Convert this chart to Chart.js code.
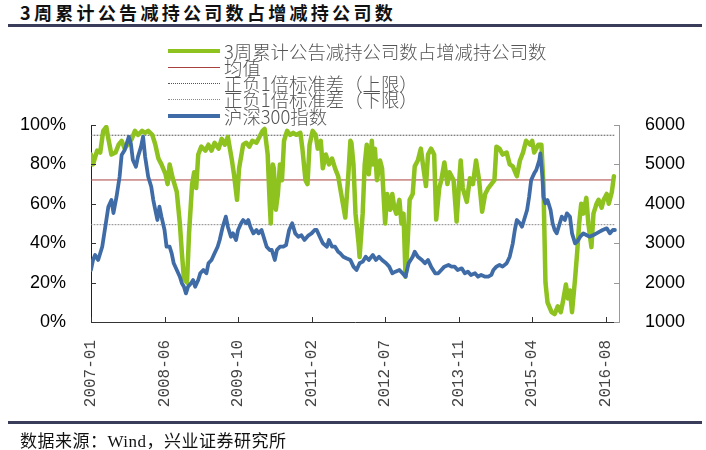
<!DOCTYPE html>
<html><head><meta charset="utf-8">
<script src="https://cdn.jsdelivr.net/npm/chart.js@4/dist/chart.umd.min.js"></script>
<style>
html,body{margin:0;padding:0;background:#fff;}
#wrap{position:relative;width:706px;height:450px;overflow:hidden;background:#fff;}
#c{position:absolute;left:0;top:0;}
#title{position:absolute;left:20px;top:1px;font:bold 18px "Noto Sans CJK SC";letter-spacing:3.3px;color:#111;line-height:22px;white-space:nowrap;}
.rule{position:absolute;left:8px;width:694px;height:3px;background:#3a3d5a;}
#src{position:absolute;left:20px;top:429px;font:17px "Noto Sans CJK SC";letter-spacing:0.5px;color:#111;line-height:22px;white-space:nowrap;}
#src .w{font-family:"Liberation Serif";}
#legend{position:absolute;left:168px;top:0;}
.li{position:absolute;left:0;height:17px;white-space:nowrap;}
.sw{position:absolute;left:0;width:52px;}
.lt{position:absolute;left:56px;top:0;font:300 18.4px "Noto Sans CJK SC";color:#555;line-height:17px;}
</style></head>
<body>
<div id="wrap">
  <div id="title">3周累计公告减持公司数占增减持公司数</div>
  <div class="rule" style="top:24px"></div>
  <canvas id="c" width="706" height="450"></canvas>
  <div id="legend"></div>
  <div class="rule" style="top:421px"></div>
  <div id="src">数据来源：<span class="w">Wind</span>，兴业证券研究所</div>
</div>
<script>
// ---- tick labels (weeks since first observation) ----
const tickWeeks = [0, 72, 144, 216, 288, 360, 432, 504];
const tickLabels = ['2007-01', '2008-06', '2009-10', '2011-02', '2012-07', '2013-11', '2015-04', '2016-08'];
const xMax = 517;

// ---- series: 3-week cumulative share of reducing companies (%) ----
const greenWeeks = [0,2,6,9,12,15,17,20,24,27,30,33,37,40,43,46,50,53,56,60,63,66,69,73,75,77,80,84,87,89,91,94,96,99,101,103,105,108,112,115,118,121,125,128,131,134,138,140,143,145,149,152,155,158,162,165,168,170,173,175,176,178,179,181,183,185,187,189,192,195,198,201,205,207,210,212,214,217,220,222,225,227,230,233,236,239,242,246,249,252,254,255,257,259,262,263,266,268,270,272,275,276,278,280,283,285,288,290,293,295,297,299,302,304,306,308,310,312,315,317,320,323,325,328,330,333,336,338,341,343,346,349,351,355,358,361,362,364,368,371,374,377,380,383,386,389,392,395,397,400,403,407,410,413,417,420,423,426,430,432,434,438,441,443,445,447,451,454,457,460,462,465,467,469,471,474,476,478,480,482,485,487,490,492,495,497,500,502,505,507,510,512];
const greenPct = [85,80,87,86,97,99,93,85,86,90,92,88,91,93,97,95,97,96,97,95,90,83,80,75,70,80,73,66,50,35,22,20,45,70,76,68,85,89,87,90,87,91,88,93,90,94,82,75,62,78,90,91,89,92,91,94,97,98,85,60,50,80,78,57,65,80,72,92,97,95,96,95,96,88,72,70,90,97,95,88,92,78,85,80,83,78,74,62,53,75,92,91,80,55,40,33,55,80,90,75,92,80,88,72,82,78,50,65,57,65,58,55,62,50,55,23,40,62,65,79,82,88,80,69,85,88,85,52,68,72,81,70,76,72,51,75,82,68,61,73,70,82,72,56,65,68,70,72,89,88,85,86,80,79,74,82,86,92,90,92,86,90,90,70,20,10,5,4,8,5,10,19,12,16,5,22,35,50,60,55,63,50,38,55,60,62,58,62,65,60,66,74];

// ---- series: CSI 300 index ----
const hsWeeks = [0,2,4,7,11,14,17,20,22,25,28,30,33,37,39,41,44,46,49,51,53,55,56,59,61,63,65,67,69,72,74,77,79,81,84,87,89,91,93,95,98,100,102,105,107,110,113,115,118,121,124,126,129,132,134,137,139,142,144,147,149,152,154,156,159,162,164,167,169,172,175,177,180,182,185,188,191,194,197,200,203,206,209,213,216,219,221,224,227,231,233,236,239,242,244,247,250,254,257,260,263,266,269,272,276,279,282,285,289,292,295,298,302,305,308,311,315,317,320,324,327,330,333,337,340,343,346,350,353,356,359,363,366,369,372,376,379,382,386,389,392,394,397,400,403,407,410,413,415,417,420,422,425,427,429,431,434,436,439,440,442,443,445,447,450,452,454,456,459,461,464,466,469,471,474,476,479,482,485,488,492,495,498,501,505,508,511,513];
const hs300 = [2320,2574,2700,2574,2911,3419,3926,4096,3766,4180,4688,5238,5365,5703,5535,5112,4942,5196,5450,5703,5196,4858,4688,4434,4096,3842,3589,3926,3673,3335,2911,2911,2743,2490,2320,2150,1982,1896,1728,1896,1982,2066,1896,2066,2236,2320,2236,2490,2574,2743,2911,3081,3419,3673,3419,3165,3250,3081,3335,3505,3589,3505,3589,3419,3250,3335,3250,3335,3165,2911,2827,2827,2574,2827,2911,2911,2953,3335,3505,3250,3165,3200,3081,3200,3250,3335,3335,3165,2997,2911,3081,2911,2911,2785,2743,2658,2620,2574,2405,2320,2490,2532,2658,2574,2700,2574,2658,2574,2490,2405,2236,2278,2320,2236,2150,2490,2658,2785,2658,2574,2490,2574,2405,2236,2236,2320,2405,2447,2405,2405,2320,2362,2236,2278,2194,2236,2150,2194,2150,2150,2194,2320,2405,2447,2405,2490,2658,2997,3335,3589,3505,3419,3673,3842,4180,4604,4773,4858,5112,5281,4688,4180,4011,4096,3842,3505,3335,3250,3505,3673,3589,3758,3673,3250,2997,3039,3165,3250,3208,3165,3208,3250,3293,3335,3377,3250,3335,3335];

// ---- reference levels (%) ----
const meanPct = 72.1;
const upperPct = 94.8;
const lowerPct = 49.4;

const pairs = (xs, ys) => xs.map((x, i) => ({x: x, y: ys[i]}));
const lastWeek = greenWeeks[greenWeeks.length - 1];
const flat = v => [{x: greenWeeks[0], y: v}, {x: lastWeek, y: v}];

const datasets = [
  {label: '3周累计公告减持公司数占增减持公司数', data: pairs(greenWeeks, greenPct), yAxisID: 'y', borderColor: '#8DC21F', borderWidth: 4.5, order: 1, swH: 4},
  {label: '均值', data: flat(meanPct), yAxisID: 'y', borderColor: '#A8423E', borderWidth: 1, order: 2, swH: 1},
  {label: '正负1倍标准差（上限）', data: flat(upperPct), yAxisID: 'y', borderColor: '#555', borderWidth: 1, borderDash: [1, 2], order: 3, swH: 1, dotted: true},
  {label: '正负1倍标准差（下限）', data: flat(lowerPct), yAxisID: 'y', borderColor: '#888', borderWidth: 1, borderDash: [1, 2], order: 4, swH: 1, dotted: true},
  {label: '沪深300指数', data: pairs(hsWeeks, hs300), yAxisID: 'y1', borderColor: '#3F6CA6', borderWidth: 3.8, order: 0, swH: 3.5}
];

const inwardTicks = {
  id: 'inwardTicks',
  afterDraw(chart) {
    const {ctx, chartArea: a, scales} = chart;
    ctx.save();
    ctx.lineWidth = 1;
    ctx.strokeStyle = '#333';
    scales.y.ticks.forEach(t => {
      const y = Math.round(scales.y.getPixelForValue(t.value)) + 0.5;
      ctx.beginPath(); ctx.moveTo(a.left, y); ctx.lineTo(a.left + 5, y); ctx.stroke();
    });
    scales.x.ticks.forEach(t => {
      const x = Math.round(scales.x.getPixelForValue(t.value)) + 0.5;
      ctx.beginPath(); ctx.moveTo(x, a.bottom); ctx.lineTo(x, a.bottom - 5); ctx.stroke();
    });
    ctx.strokeStyle = '#999';
    scales.y1.ticks.forEach(t => {
      const y = Math.round(scales.y1.getPixelForValue(t.value)) + 0.5;
      ctx.beginPath(); ctx.moveTo(a.right, y); ctx.lineTo(a.right - 5, y); ctx.stroke();
    });
    ctx.restore();
  }
};

const chart = new Chart(document.getElementById('c'), {
  type: 'line',
  data: {datasets: datasets},
  options: {
    responsive: false,
    animation: false,
    devicePixelRatio: 1,
    layout: {padding: {top: 125, left: 0, right: 0, bottom: 0}},
    plugins: {legend: {display: false}, tooltip: {enabled: false}},
    elements: {point: {radius: 0}, line: {tension: 0, borderJoinStyle: 'round', borderCapStyle: 'round'}},
    scales: {
      x: {
        type: 'linear', min: 0, max: xMax,
        afterBuildTicks: s => { s.ticks = tickWeeks.map(v => ({value: v})); },
        afterFit: s => { s.height = 128; },
        grid: {display: false},
        border: {color: '#333', width: 1},
        ticks: {autoSkip: false, minRotation: 90, maxRotation: 90, padding: 10,
          font: {family: 'Liberation Mono', size: 16}, color: '#444',
          callback: (v, i) => tickLabels[i]}
      },
      y: {
        position: 'left', min: 0, max: 100,
        afterFit: s => { s.width = 91; },
        grid: {display: false},
        border: {color: '#222', width: 1},
        ticks: {stepSize: 20, padding: 17, font: {family: 'Liberation Sans', size: 18}, color: '#000',
          callback: v => v + '%'}
      },
      y1: {
        position: 'right', min: 1000, max: 6000,
        afterFit: s => { s.width = 87; },
        grid: {display: false},
        border: {color: '#999', width: 1},
        ticks: {stepSize: 1000, padding: 18, font: {family: 'Liberation Sans', size: 18}, color: '#000',
          callback: v => String(v)}
      }
    }
  },
  plugins: [inwardTicks]
});

// HTML legend built from the chart's datasets (stacked vertically)
const leg = document.getElementById('legend');
chart.data.datasets.forEach((d, i) => {
  const cy = 51 + i * 16.3;
  const row = document.createElement('div');
  row.className = 'li';
  row.style.top = (cy - 8.5) + 'px';
  const sw = document.createElement('div');
  sw.className = 'sw';
  if (d.dotted) {
    sw.style.borderTop = '1px dotted ' + d.borderColor;
    sw.style.top = '8px';
  } else {
    sw.style.background = d.borderColor;
    sw.style.height = d.swH + 'px';
    sw.style.top = (8.5 - d.swH / 2) + 'px';
  }
  const t = document.createElement('div');
  t.className = 'lt';
  t.textContent = d.label;
  row.appendChild(sw); row.appendChild(t);
  leg.appendChild(row);
});
</script>
</body></html>
